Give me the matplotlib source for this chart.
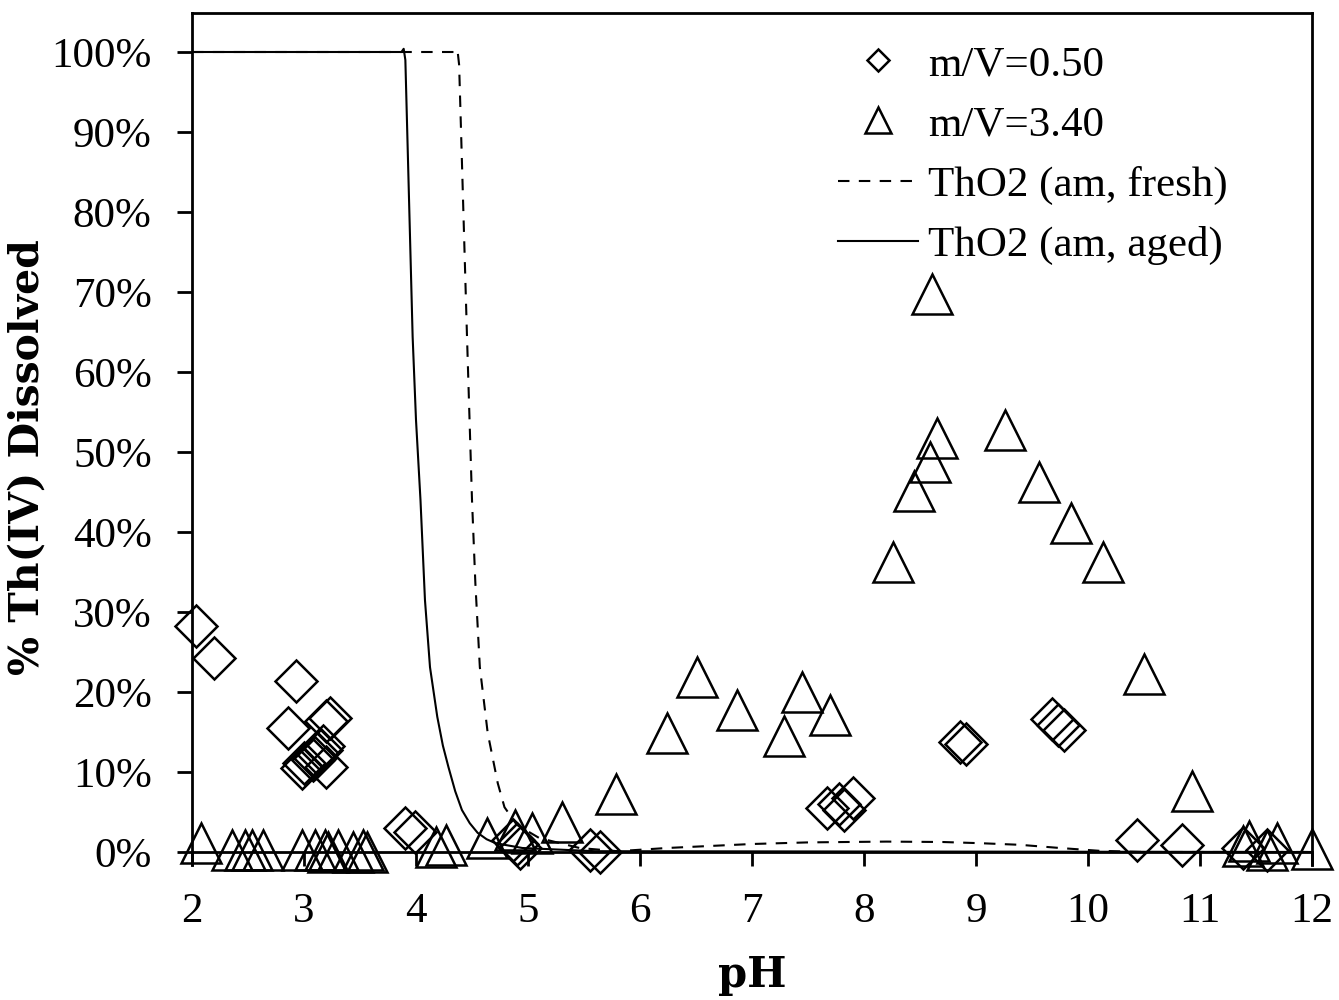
import matplotlib
matplotlib.use("Agg")
import matplotlib.pyplot as plt
from matplotlib.lines import Line2D
from matplotlib.ticker import PercentFormatter

# ---------------- data ----------------
# m/V = 0.50 (diamonds)
mv050_ph = [2.04, 2.20, 2.93, 2.86, 3.20, 3.23, 3.17, 3.12, 3.10, 2.98, 3.00, 3.20, 3.08, 3.15,
            3.90, 3.99, 4.87, 4.90, 4.93, 5.55, 5.64, 7.67, 7.78, 7.82, 7.90, 8.86, 8.91,
            9.68, 9.73, 9.79, 10.44, 10.84, 11.38, 11.60]
mv050_pct = [28.3, 24.2, 21.4, 15.5, 16.4, 16.7, 13.3, 12.4, 11.8, 10.5, 11.1, 10.6, 11.5, 12.8,
             3.0, 2.5, 1.5, 1.0, 0.5, 0.25, 0.0, 5.5, 6.0, 5.2, 6.8, 13.75, 13.5,
             16.6, 15.9, 15.2, 1.5, 0.9, 0.5, 0.25]

# m/V = 3.40 (triangles)
mv340_ph = [2.08, 2.36, 2.47, 2.54, 2.63, 2.98, 3.10, 3.19, 3.21, 3.30, 3.44, 3.53, 3.56,
            4.18, 4.27, 4.63, 4.88, 5.04, 5.30, 5.79, 6.24, 6.51, 6.87, 7.29, 7.45, 7.70,
            8.26, 8.45, 8.59, 8.65, 8.61, 9.26, 9.56, 9.85, 10.13, 10.50, 10.93,
            11.38, 11.44, 11.60, 11.69, 12.00]
mv340_pct = [1.1, 0.3, 0.3, 0.3, 0.3, 0.3, 0.3, 0.3, 0.0, 0.3, 0.0, 0.3, 0.0,
             0.6, 0.9, 1.75, 2.75, 2.4, 3.8, 7.3, 14.9, 21.9, 17.7, 14.5, 20.0, 17.1,
             36.2, 45.1, 48.75, 51.7, 69.7, 52.7, 46.2, 41.1, 36.2, 22.2, 7.6,
             0.8, 1.4, 0.2, 1.1, 0.4]

# ThO2 (am, fresh) model curve
fresh_ph = [2.0, 4.35, 4.37, 4.385, 4.455, 4.50, 4.53, 4.57, 4.64, 4.73, 4.79, 4.90, 5.10, 5.46,
            5.80, 6.24, 7.0, 7.5, 8.2, 8.7, 9.04, 9.39, 9.75, 10.1, 10.5, 12.0]
fresh_pct = [100, 100, 100.3, 98.4, 64.6, 44.0, 33.6, 23.1, 14.9, 8.6, 5.6, 3.4, 1.75, 0.5,
             0.1, 0.5, 1.0, 1.2, 1.3, 1.25, 1.1, 0.9, 0.5, 0.15, 0.0, 0.0]

# ThO2 (am, aged) model curve
aged_ph = [2.0, 3.87, 3.89, 3.905, 3.97, 4.00, 4.04, 4.08, 4.125, 4.19, 4.24, 4.29, 4.35, 4.41,
           4.48, 4.55, 4.63, 4.71, 4.95, 5.6, 12.0]
aged_pct = [100, 100, 100.4, 99.0, 64.4, 54.0, 44.0, 31.5, 23.1, 16.9, 13.3, 10.6, 7.6, 5.25,
            3.6, 2.4, 1.6, 1.1, 0.5, 0.1, 0.0]

x_ticks = [2, 3, 4, 5, 6, 7, 8, 9, 10, 11, 12]
y_ticks = [0, 10, 20, 30, 40, 50, 60, 70, 80, 90, 100]
legend_labels = ["m/V=0.50", "m/V=3.40", "ThO2 (am, fresh)", "ThO2 (am, aged)"]

# ---------------- figure ----------------
W, H = 1339, 1000
fig = plt.figure(figsize=(W / 100, H / 100), dpi=100)
ax = fig.add_axes([192 / W, 1 - 865 / H, (1312 - 192) / W, (865 - 13) / H])

serif = ["Liberation Serif", "DejaVu Serif"]
tick_fs = 31

ax.plot(fresh_ph, fresh_pct, color="black", lw=1.5, ls=(0, (5.5, 4.5)), zorder=2)
ax.plot(aged_ph, aged_pct, color="black", lw=1.5, ls="-", zorder=2)

ax.plot(mv050_ph, mv050_pct, ls="none", marker="D", ms=21, mfc="none", mec="black",
        mew=1.8, clip_on=False, zorder=3)
ax.plot(mv340_ph, mv340_pct, ls="none", marker="^", ms=29, mfc="none", mec="black",
        mew=1.8, clip_on=False, zorder=3)

ax.set_xlim(2, 12)
ax.set_ylim(-1.625, 104.875)
ax.set_xticks(x_ticks)
ax.set_yticks(y_ticks)
ax.yaxis.set_major_formatter(PercentFormatter(100, decimals=0))

for s in ["top", "left", "right", "bottom"]:
    ax.spines[s].set_linewidth(2.0)
    ax.spines[s].set_color("black")
ax.spines["bottom"].set_position(("data", 0))

ax.tick_params(axis="x", direction="out", length=10, width=2.0, pad=19)
ax.tick_params(axis="y", direction="out", length=11, width=2.0, pad=18)
for lab in ax.get_xticklabels() + ax.get_yticklabels():
    lab.set_fontfamily(serif)
    lab.set_fontsize(tick_fs)

# axis titles
fig.text(752 / W, 1 - 975 / H, "pH", ha="center", va="center",
         fontsize=30, fontweight="bold", family=["DejaVu Serif"])
fig.text(28 / W, 1 - 457 / H, "% Th(IV) Dissolved", ha="center", va="center",
         rotation=90, fontsize=29.5, fontweight="bold", family=["DejaVu Serif"])

# legend
handles = [
    Line2D([], [], ls="none", marker="D", ms=11.5, mfc="none", mec="black", mew=1.8),
    Line2D([], [], ls="none", marker="^", ms=19, mfc="none", mec="black", mew=1.8),
    Line2D([], [], color="black", lw=1.5, ls=(0, (5.5, 4.5))),
    Line2D([], [], color="black", lw=1.5, ls="-"),
]
leg = fig.legend(handles, legend_labels, loc="upper left",
                 bbox_to_anchor=(838 / W, 1 - 45 / H), frameon=False,
                 prop={"family": serif, "size": tick_fs},
                 handlelength=1.86, handletextpad=0.23, labelspacing=0.49,
                 borderpad=0, borderaxespad=0)

fig.savefig("out.png", dpi=100)
